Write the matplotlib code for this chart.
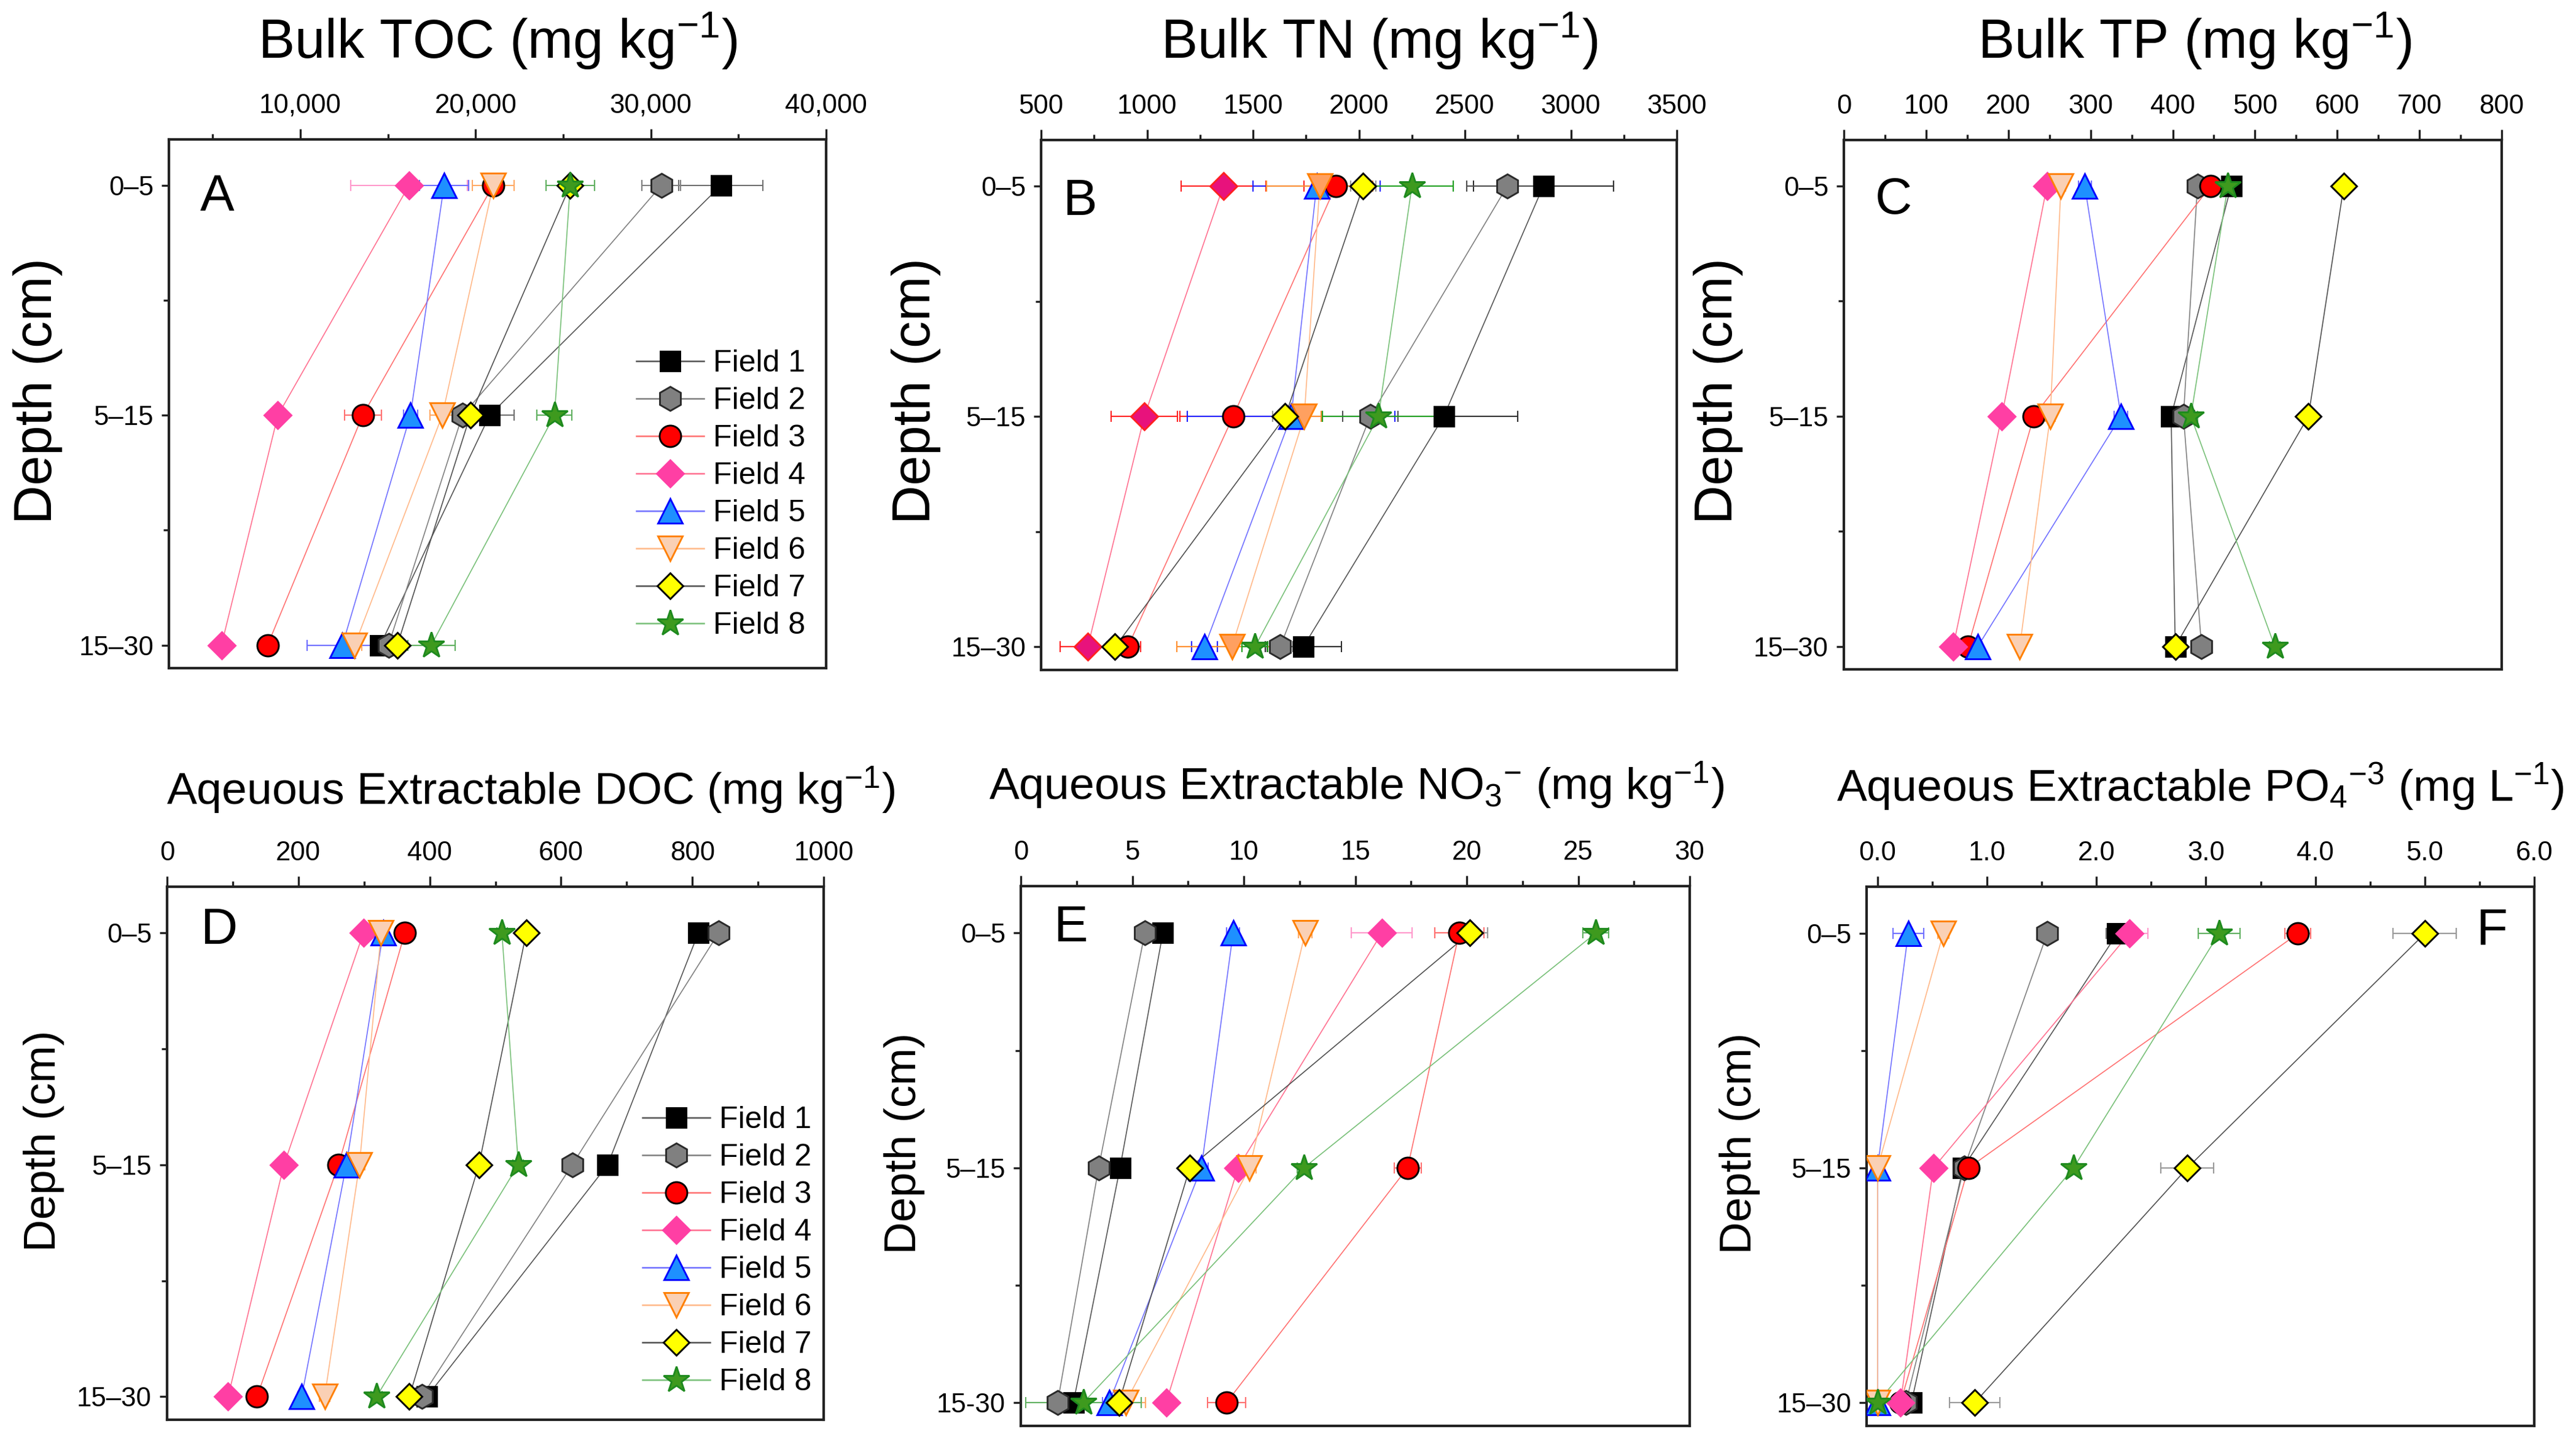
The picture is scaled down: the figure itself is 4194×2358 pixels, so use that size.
import matplotlib
matplotlib.use("Agg")
import matplotlib.pyplot as plt
from matplotlib.lines import Line2D
from matplotlib.ticker import FuncFormatter, FixedLocator

plt.rcParams['font.family'] = ['Liberation Sans', 'DejaVu Sans']
plt.rcParams['mathtext.fontset'] = 'custom'
plt.rcParams['mathtext.rm'] = 'Liberation Sans'
plt.rcParams['mathtext.it'] = 'Liberation Sans:italic'
plt.rcParams['mathtext.bf'] = 'Liberation Sans:bold'

W, H = 4194, 2358
DPI = 300

# ---------------- data ----------------
depths = ['0–5', '5–15', '15–30']
depths_e = ['0–5', '5–15', '15-30']
fields = ['Field 1', 'Field 2', 'Field 3', 'Field 4', 'Field 5', 'Field 6', 'Field 7', 'Field 8']

# values per field: [0-5, 5-15, 15-30]
toc = [[34000, 20800, 14560], [30600, 19250, 15030], [21000, 13560, 8130], [16200, 8720, 5500],
       [18200, 16280, 12400], [21000, 18100, 13100], [25400, 19700, 15530], [25400, 24500, 17470]]
toc_err = [[2400, 1400, 300], [1100, 500, 300], [500, 1050, 400], [3320, 300, 300],
           [1400, 400, 2000], [1200, 700, 400], [400, 300, 300], [1380, 1000, 1350]]

tn = [[2870, 2400, 1737], [2700, 2053, 1628], [1890, 1406, 909], [1360, 987, 720],
      [1800, 1680, 1271], [1815, 1742, 1400], [2020, 1652, 849], [2250, 2092, 1509]]
tn_err = [[330, 350, 180], [190, 130, 60], [150, 250, 60], [200, 157, 130],
          [300, 490, 60], [250, 80, 260], [60, 60, 40], [194, 265, 60]]

tp = [[471, 398, 403], [430, 413, 435], [446, 231, 151], [247, 192, 133],
      [293, 337, 163], [264, 251, 214], [608, 565, 403], [467, 422, 524]]
tp_err = [[8, 8, 5], [8, 8, 5], [8, 8, 5], [6, 6, 5], [8, 8, 5], [6, 6, 5], [8, 8, 6], [8, 8, 6]]

doc = [[809, 671, 396], [840, 617, 388], [362, 261, 137], [299, 178, 93],
       [329, 273, 205], [326, 293, 240], [547, 475, 369], [510, 535, 319]]
doc_err = [[10, 8, 8], [12, 8, 8], [8, 8, 8], [6, 6, 6], [8, 8, 6], [10, 8, 8], [8, 8, 12], [8, 8, 8]]

no3 = [[6.37, 4.45, 2.36], [5.56, 3.49, 1.65], [19.66, 17.35, 9.23], [16.19, 9.74, 6.52],
       [9.52, 8.10, 3.96], [12.75, 10.26, 4.70], [20.13, 7.58, 4.40], [25.79, 12.70, 2.81]]
no3_err = [[0.2, 0.2, 0.2], [0.2, 0.2, 0.2], [1.1, 0.6, 0.86], [1.37, 0.2, 0.2],
           [0.3, 0.3, 0.3], [0.3, 0.3, 0.9], [0.8, 0.2, 0.3], [0.57, 0.3, 2.58]]

po4 = [[2.19, 0.78, 0.31], [1.55, 0.79, 0.26], [3.84, 0.83, 0.21], [2.30, 0.51, 0.21],
       [0.28, 0.0, 0.0], [0.60, 0.0, 0.0], [5.00, 2.83, 0.89], [3.12, 1.79, 0.0]]
po4_err = [[0.1, 0.03, 0.05], [0.03, 0.03, 0.03], [0.12, 0.05, 0.03], [0.17, 0.03, 0.08],
           [0.14, 0.02, 0.02], [0.05, 0.02, 0.02], [0.29, 0.24, 0.23], [0.19, 0.04, 0.02]]

# ---------------- styles ----------------
markers = ['s', 'h', 'o', 'D', '^', 'v', 'D', '*']
msizes = [7.6, 9.4, 8.4, 7.4, 9.4, 9.4, 7.2, 10.8]
faces = ['#000000', '#808080', '#FF0000', '#FF3FA4', '#1E90FF', '#FAD0B4', '#FFFF00', '#3E9A1E']
edges = ['#000000', '#2a2a2a', '#000000', '#FF3FA4', '#0000FF', '#FF8000', '#000000', '#1E8A1E']
lcolors = ['#555555', '#808080', '#FF7070', '#FF7090', '#7070FF', '#FFB888', '#505050', '#78C078']
ecolors = ['#707070', '#808080', '#FF7070', '#FF99CC', '#7070FF', '#FFAA66', '#999999', '#60B060']

def px2fig(left, right, top, bottom):
    return [left / W, 1 - bottom / H, (right - left) / W, (bottom - top) / H]

fig = plt.figure(figsize=(W / DPI, H / DPI), dpi=DPI)

panels = [
    dict(vals=toc, err=toc_err, rect=(275, 1345, 227, 1088), xlim=(2500, 40000),
         major=[10000, 20000, 30000, 40000], minor=[5000, 15000, 25000, 35000],
         fmt=lambda v, p: f'{int(v):,}', letter='A', lpos=(326, 343), ylab=depths,
         title=r'Bulk TOC (mg kg$^{-1}$)', tpos=(810, 95), tsize=21.3,
         yl=(62, 636), ylsize=21, legend=(1036, 569)),
    dict(vals=tn, err=tn_err, rect=(1695, 2730, 228, 1091), xlim=(500, 3500),
         major=list(range(500, 3501, 500)), minor=list(range(750, 3500, 500)),
         fmt=lambda v, p: f'{int(v)}', letter='B', lpos=(1730, 350), ylab=depths,
         title=r'Bulk TN (mg kg$^{-1}$)', tpos=(2246, 95), tsize=21.3,
         yl=(1492, 636), ylsize=21, legend=None,
         face_over={3: '#E8127C', 5: '#FFA060'}, edge_over={3: '#FF2020'},
         ecol_over={0: '#303030', 1: '#505050', 2: '#FF2020', 3: '#FF2020', 4: '#2020FF', 5: '#FF9030', 7: '#20A020'}),
    dict(vals=tp, err=tp_err, rect=(3002, 4073, 228, 1090), xlim=(0, 800),
         major=list(range(0, 801, 100)), minor=list(range(50, 800, 100)),
         fmt=lambda v, p: f'{int(v)}', letter='C', lpos=(3053, 348), ylab=depths,
         title=r'Bulk TP (mg kg$^{-1}$)', tpos=(3573, 95), tsize=21.3,
         yl=(2797, 636), ylsize=21, legend=None),
    dict(vals=doc, err=doc_err, rect=(272, 1341, 1444, 2312), xlim=(0, 1000),
         major=list(range(0, 1001, 200)), minor=list(range(100, 1000, 200)),
         fmt=lambda v, p: f'{int(v)}', letter='D', lpos=(326, 1537), ylab=depths,
         title=r'Aqeuous Extractable DOC (mg kg$^{-1}$)', tpos=(864, 1310), tsize=17.6,
         yl=(72, 1858), ylsize=17.5, legend=(1046, 1801)),
    dict(vals=no3, err=no3_err, rect=(1662, 2751, 1443, 2322), xlim=(0, 30),
         major=list(range(0, 31, 5)), minor=[2.5, 7.5, 12.5, 17.5, 22.5, 27.5],
         fmt=lambda v, p: f'{int(v)}', letter='E', lpos=(1715, 1533), ylab=depths_e,
         title=r'Aqueous Extractable NO$_3$$^{-}$ (mg kg$^{-1}$)', tpos=(2208, 1302), tsize=17.6,
         yl=(1473, 1862), ylsize=17.5, legend=None),
    dict(vals=po4, err=po4_err, rect=(3039, 4126, 1444, 2322), xlim=(-0.1, 6.0),
         major=[0, 1, 2, 3, 4, 5, 6], minor=[0.5, 1.5, 2.5, 3.5, 4.5, 5.5],
         fmt=lambda v, p: f'{v:.1f}', letter='F', lpos=(4031, 1537), ylab=depths,
         title=r'Aqueous Extractable PO$_4$$^{-3}$ (mg L$^{-1}$)', tpos=(3582, 1304), tsize=17.6,
         yl=(2832, 1862), ylsize=17.5, legend=None),
]

ypos = [1, 2, 3]

for P in panels:
    ax = fig.add_axes(px2fig(*P['rect']))
    fo = P.get('face_over', {})
    eo = P.get('edge_over', {})
    co = P.get('ecol_over', {})
    for i in range(8):
        v = P['vals'][i]
        e = P['err'][i]
        ax.plot(v, ypos, '-', color=lcolors[i], lw=0.4, zorder=2)
        ax.errorbar(v, ypos, xerr=e, fmt='none', ecolor=co.get(i, ecolors[i]), elinewidth=0.5,
                    capsize=2.2, capthick=0.5, zorder=3)
    for i in range(8):
        v = P['vals'][i]
        ax.plot(v, ypos, linestyle='none', marker=markers[i], ms=msizes[i],
                mfc=fo.get(i, faces[i]), mec=eo.get(i, edges[i]), mew=0.7, zorder=4 + i)

    ax.set_xlim(*P['xlim'])
    ax.set_ylim(3.1, 0.8)
    ax.xaxis.tick_top()
    ax.xaxis.set_major_locator(FixedLocator(P['major']))
    ax.xaxis.set_minor_locator(FixedLocator(P['minor']))
    ax.xaxis.set_major_formatter(FuncFormatter(P['fmt']))
    ax.set_yticks(ypos)
    ax.set_yticklabels(P['ylab'])
    ax.yaxis.set_minor_locator(FixedLocator([1.5, 2.5]))
    ax.tick_params(axis='x', which='major', direction='out', length=4.2, width=0.8,
                   labelsize=10.5, pad=4, top=True, bottom=False, colors='#222222', labelcolor='black')
    ax.tick_params(axis='x', which='minor', direction='out', length=2.2, width=0.8,
                   top=True, bottom=False, colors='#222222')
    ax.tick_params(axis='y', which='major', direction='out', length=3, width=0.8,
                   labelsize=10.5, pad=3, colors='#222222', labelcolor='black')
    ax.tick_params(axis='y', which='minor', direction='out', length=2.2, width=0.8, colors='#222222')
    for s in ax.spines.values():
        s.set_linewidth(1.0)
        s.set_color('#222222')

    fig.text(P['lpos'][0] / W, 1 - P['lpos'][1] / H, P['letter'],
             family=['Liberation Sans Narrow', 'Liberation Sans'], fontsize=20,
             ha='left', va='baseline')
    fig.text(P['tpos'][0] / W, 1 - P['tpos'][1] / H, P['title'], fontsize=P['tsize'],
             ha='center', va='baseline')
    fig.text(P['yl'][0] / W, 1 - P['yl'][1] / H, 'Depth (cm)', fontsize=P['ylsize'],
             rotation=90, ha='center', va='center')

    if P['legend'] is not None:
        handles = [Line2D([], [], color=lcolors[i], lw=0.6, marker=markers[i], ms=msizes[i],
                          mfc=faces[i], mec=edges[i], mew=0.7) for i in range(8)]
        ax.legend(handles, fields, loc='upper left',
                  bbox_to_anchor=(P['legend'][0] / W, 1 - P['legend'][1] / H),
                  bbox_transform=fig.transFigure, frameon=False, borderpad=0,
                  borderaxespad=0, handlelength=2.2, handletextpad=0.3,
                  labelspacing=0.30, fontsize=12)

fig.savefig('out.png', dpi=DPI)
